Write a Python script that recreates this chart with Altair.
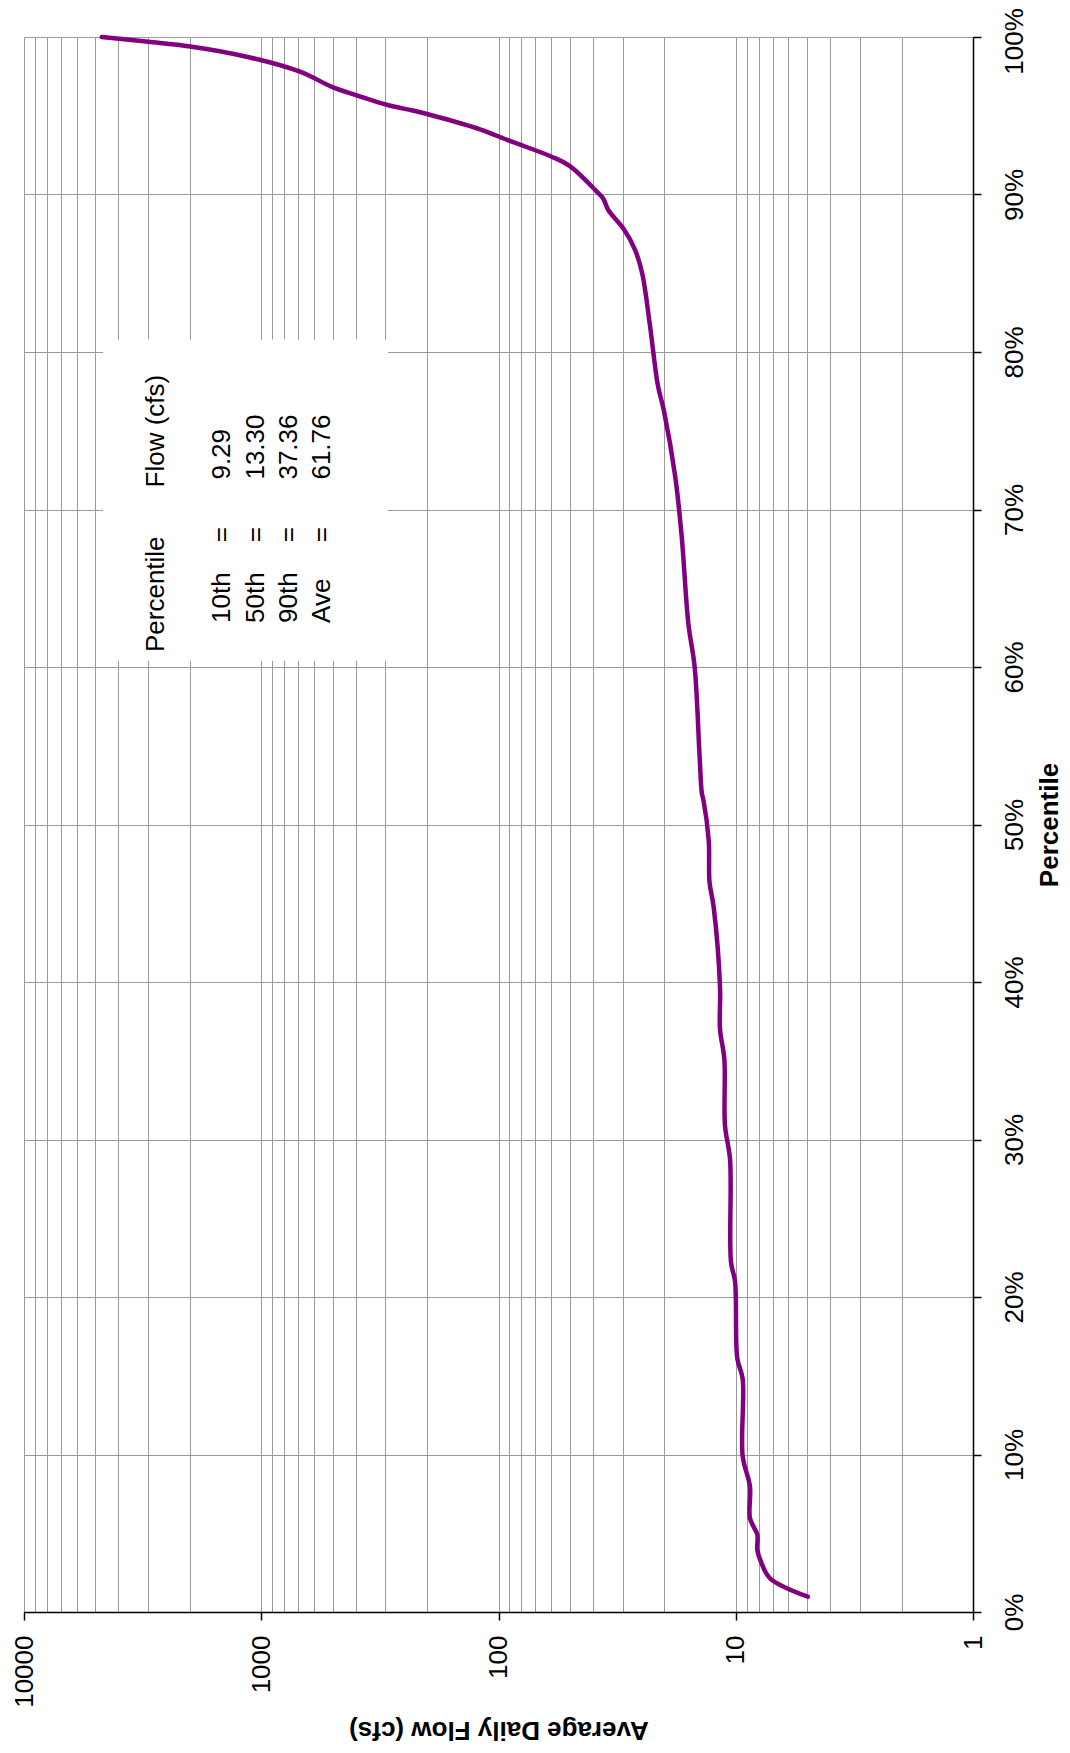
import altair as alt
import pandas as pd

# Flow duration curve (percentile vs average daily flow, cfs)
percentile = [0.0097, 0.0214, 0.0309, 0.0394, 0.049, 0.0595, 0.0796, 0.099, 0.148, 0.161,
              0.21, 0.222, 0.2875, 0.309, 0.351, 0.37, 0.397, 0.448, 0.4635, 0.49,
              0.516, 0.52, 0.543, 0.60, 0.628, 0.683, 0.721, 0.763, 0.779, 0.817,
              0.85, 0.865, 0.8785, 0.89, 0.8975, 0.902, 0.918, 0.924, 0.934, 0.9414,
              0.95, 0.9537, 0.957, 0.963, 0.968, 0.978, 0.9875, 0.994, 0.997, 1.0]
flow = [4.97, 7.17, 7.78, 8.11, 8.11, 8.71, 8.71, 9.35, 9.35, 9.85,
        10.07, 10.47, 10.57, 11.1, 11.17, 11.65, 11.65, 12.4, 12.9, 13.0,
        13.7, 13.9, 14.2, 14.9, 15.85, 16.9, 18.0, 20.1, 21.3, 23.0,
        24.8, 26.6, 29.8, 34.4, 36.2, 38.6, 50.0, 59.7, 89.5, 119.7,
        188, 236, 296, 396, 498, 687, 1152, 1990, 2993, 4700]

# axis ticks / gridlines
pct_ticks = [0.0, 0.1, 0.2, 0.3, 0.4, 0.5, 0.6, 0.7, 0.8, 0.9, 1.0]
decades = [1, 10, 100, 1000, 10000]
flow_grid = [m * d for d in [1, 10, 100, 1000] for m in range(1, 10)] + [10000]

# statistics box
stat_names = ["10th", "50th", "90th", "Ave"]
stat_values = ["9.29", "13.30", "37.36", "61.76"]
header_left = "Percentile"
header_right = "Flow (cfs)"

# annotation anchors (data coordinates)
box_flow = [4645, 292]
box_pct = [0.604, 0.808]
header_flow = 2780
row_flow = [1463, 1052, 764, 555]
pct_col_start = [0.6095, 0.628, 0.684, 0.714, 0.719]  # header-left, names, '=', header-right, values

FONT = "Liberation Sans, Arial, sans-serif"
FS = 26

curve = pd.DataFrame({"pct": percentile, "flow": flow})

xscale = alt.Scale(type="log", domain=[1, 10000], reverse=True, nice=False)
yscale = alt.Scale(domain=[0, 1], nice=False)

dec_list = "[" + ",".join(str(d) for d in decades) + "]"
dec_test = f"indexof({dec_list}, datum.value) >= 0"

xaxis = alt.Axis(
    orient="bottom", values=flow_grid, grid=True, gridColor="#9a9a9a", gridWidth=1,
    labelExpr=f"{dec_test} ? format(datum.value, 'd') : ''",
    labelAngle=270, labelAlign="right", labelBaseline="middle", labelPadding=15,
    labelFontSize=FS, labelFont=FONT, labelColor="#000", labelOverlap=False,
    tickSize=8, tickColor="#000", tickWidth=1.5,
    tickOpacity={"condition": {"test": dec_test, "value": 1}, "value": 0},
    domainColor="#000", domainWidth=1.5,
    title="Average Daily Flow (cfs)", titleAngle=180, titleBaseline="middle", titleAlign="center",
    titleY=117, titleFont=FONT, titleFontSize=FS, titleFontWeight="bold", titleColor="#000",
)

yaxis = alt.Axis(
    orient="right", values=pct_ticks, format=".0%", grid=True, gridColor="#9a9a9a", gridWidth=1,
    labelAngle=270, labelAlign="center", labelBaseline="top", labelPadding=20,
    labelOffset={"condition": {"test": "datum.value >= 0.999", "value": 4}, "value": 0},
    labelFontSize=FS, labelFont=FONT, labelColor="#000",
    tickSize=8, tickColor="#000", tickWidth=1.5,
    domainColor="#000", domainWidth=1.5,
    title="Percentile", titleAngle=270, titleBaseline="middle", titleAlign="center",
    titleX=76, titleFont=FONT, titleFontSize=FS, titleFontWeight="bold", titleColor="#000",
)

line = alt.Chart(curve).mark_line(
    color="#800080", strokeWidth=4.5, strokeJoin="round", strokeCap="round", interpolate="catmull-rom"
).encode(
    x=alt.X("flow:Q", scale=xscale, axis=xaxis),
    y=alt.Y("pct:Q", scale=yscale, axis=yaxis),
    order="pct:Q",
)

box_df = pd.DataFrame({"x1": [box_flow[0]], "x2": [box_flow[1]], "y1": [box_pct[0]], "y2": [box_pct[1]]})
box = alt.Chart(box_df).mark_rect(fill="white").encode(
    x=alt.X("x1:Q", scale=xscale), x2="x2:Q",
    y=alt.Y("y1:Q", scale=yscale), y2="y2:Q",
)

left_rows = [
    {"t": header_left, "fx": header_flow, "py": pct_col_start[0]},
    {"t": header_right, "fx": header_flow, "py": pct_col_start[3]},
]
for n, v, fx in zip(stat_names, stat_values, row_flow):
    left_rows.append({"t": n, "fx": fx, "py": pct_col_start[1]})
    left_rows.append({"t": v, "fx": fx, "py": pct_col_start[4]})
left_df = pd.DataFrame(left_rows)
center_df = pd.DataFrame({"t": ["="] * len(row_flow), "fx": row_flow, "py": [pct_col_start[2]] * len(row_flow)})

txt_left = alt.Chart(left_df).mark_text(angle=270, align="left", baseline="middle", font=FONT, fontSize=FS, color="#000").encode(
    x=alt.X("fx:Q", scale=xscale), y=alt.Y("py:Q", scale=yscale), text="t:N")
txt_center = alt.Chart(center_df).mark_text(angle=270, align="center", baseline="middle", font=FONT, fontSize=FS, color="#000").encode(
    x=alt.X("fx:Q", scale=xscale), y=alt.Y("py:Q", scale=yscale), text="t:N")

chart = alt.layer(box, line, txt_left, txt_center).properties(
    width=949, height=1575,
    padding={"left": 16, "top": 29, "right": 89, "bottom": 132},
    autosize=alt.AutoSizeParams(type="none"),
).configure_view(stroke="#808080", strokeWidth=2).configure(background="white")

chart.save("out.html", embed_options={"renderer": "svg", "actions": False})
